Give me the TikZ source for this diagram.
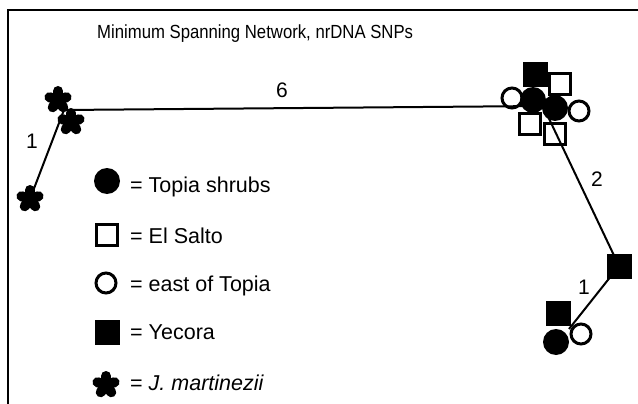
\documentclass[tikz,border=0pt]{standalone}
\usepackage{fontspec}
\setmainfont{Liberation Sans}
\newfontfamily\titlefont[FakeStretch=0.88]{Liberation Sans}
\tikzset{
  fsq/.style={rectangle, fill=black, minimum size=25pt, inner sep=0pt},
  osq/.style={rectangle, draw=black, line width=3pt, minimum size=21pt, inner sep=0pt},
  fci/.style={circle, fill=black, minimum size=26pt, inner sep=0pt},
  oci/.style={circle, draw=black, line width=3pt, minimum size=20pt, inner sep=0pt},
  edge/.style={draw=black, line width=2pt},
  frame/.style={draw=black, line width=2.2pt},
  lbl/.style={font=\fontsize{21}{24}\selectfont, inner sep=0pt},
  leg/.style={font=\fontsize{21.5}{24}\selectfont, inner sep=0pt, anchor=base west},
  jstar/.pic={
    \fill[black] (0,0) circle (7pt);
    \foreach \a in {270,342,198,54,126}
      \draw[line width=10pt, line cap=round] (0,0) -- (\a:9);
  }
}
\begin{document}
\begin{tikzpicture}[x=1pt,y=-1pt]
\useasboundingbox (0,0) rectangle (638,404);
\fill[white] (0,0) rectangle (638,404);
% frame
\coordinate (fTL) at (8,10);
\coordinate (fTR) at (638,10);
\coordinate (fBL) at (8,404);
\draw[frame] (fTR) -- (fTL) -- (fBL);
% title
\node[font=\titlefont\fontsize{19}{22}\selectfont, inner sep=0pt, anchor=base west] (title) at (97,39) {Minimum Spanning Network, nrDNA SNPs};
% junction coordinates
\coordinate (jL) at (64,110);
\coordinate (jR) at (543,106);
\coordinate (jLow) at (569,329);
% star positions
\coordinate (st1) at (58,100);
\coordinate (st2) at (71,122);
\coordinate (st3) at (30,199);
% lower right square
\node[fsq] (y1) at (619,266) {};
% connectors
\draw[edge] (jL) -- (jR);
\draw[edge] (jL) -- (st3);
\draw[edge] (jR) -- (y1.center);
\draw[edge] (y1.center) -- (jLow);
\node[lbl] (l6) at (282,90) {6};
\node[lbl] (l1a) at (32,141) {1};
\node[lbl] (l2) at (597,179) {2};
\node[lbl] (l1b) at (584,287) {1};
% left cluster stars
\pic at (st1) {jstar};
\pic at (st2) {jstar};
\pic at (st3) {jstar};
% right cluster
\node[fsq] (y0) at (535,75) {};
\node[osq] (e1) at (560,84) {};
\node[oci] (o1) at (512,98) {};
\node[fci] (t1) at (533,100) {};
\node[fci] (t2) at (555,108) {};
\node[oci] (o2) at (579,111) {};
\node[osq] (e2) at (530,124) {};
\node[osq] (e3) at (555,134) {};
% lower cluster
\node[fsq] (y2) at (558,313) {};
\node[fci] (t3) at (556,342) {};
\node[oci] (o3) at (581,334) {};
% legend
\node[fci] (kt) at (107,181) {};
\node[leg] (kt-t) at (130,193) {= Topia shrubs};
\node[osq] (ke) at (107,235) {};
\node[leg] (ke-t) at (130,243) {= El Salto};
\node[oci] (ko) at (106,283) {};
\node[leg] (ko-t) at (130,291) {= east of Topia};
\node[fsq] (ky) at (107,332) {};
\node[leg] (ky-t) at (130,339) {= Yecora};
\coordinate (kj) at (106,385);
\pic at (kj) {jstar};
\node[leg] (kj-t) at (130,390) {= \textit{J. martinezii}};
\end{tikzpicture}
\end{document}
